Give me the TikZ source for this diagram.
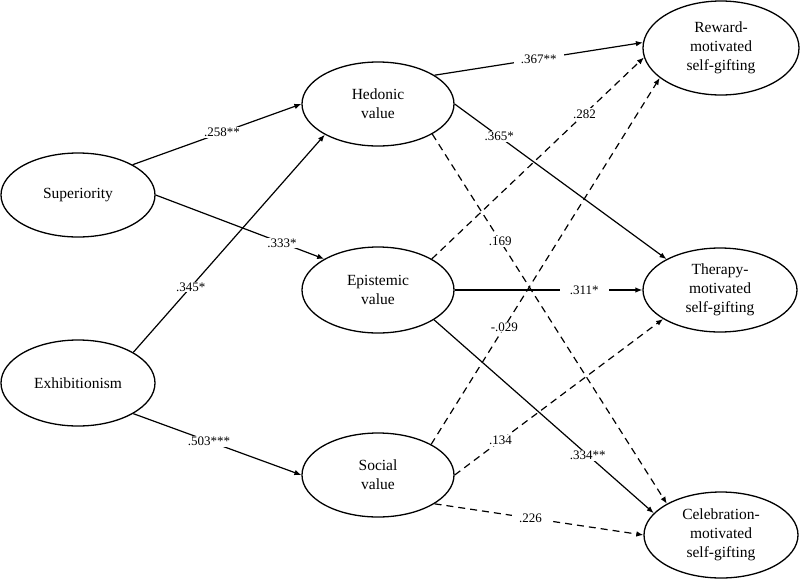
\documentclass[tikz,border=0pt]{standalone}
\usepackage{fontspec}
\setmainfont{Liberation Serif}
\usetikzlibrary{shapes.geometric,arrows.meta}
\begin{document}
\begin{tikzpicture}[x=1pt,y=-1pt,
  var/.style={draw,ellipse,line width=1.3pt,inner sep=0pt,align=center,
    font=\fontsize{15.5}{19}\selectfont},
  path/.style={line width=1.2pt,-{Latex[length=7pt,width=5.5pt]}},
  ns/.style={path,dash pattern=on 7pt off 5pt},
  lbl/.style={fill=white,inner xsep=7pt,inner ysep=1pt,font=\fontsize{13}{15}\selectfont}]
\useasboundingbox (0,0) rectangle (800,579);
\node[var,minimum width=154pt,minimum height=84pt] (sup) at (78,195) {Superiority};
\node[var,minimum width=154pt,minimum height=86pt] (exh) at (78,383) {Exhibitionism};
\node[var,minimum width=152pt,minimum height=84pt] (hed) at (378,104) {Hedonic\\value};
\node[var,minimum width=152pt,minimum height=86pt] (epi) at (378,290) {Epistemic\\value};
\node[var,minimum width=152pt,minimum height=84pt] (soc) at (378,475) {Social\\value};
\node[var,minimum width=156pt,minimum height=94pt] (rew) at (721,48) {Reward-\\motivated\\self-gifting};
\node[var,minimum width=154pt,minimum height=84pt] (the) at (720,290) {Therapy-\\motivated\\self-gifting};
\node[var,minimum width=154pt,minimum height=86pt] (cel) at (721,535) {Celebration-\\motivated\\self-gifting};

\draw[path] (sup.29) -- node[lbl,pos=0.53] {.258**} (hed.west);
\draw[path] (sup.east) -- node[lbl,pos=0.75] {.333*} (epi.150.6);
\draw[path] (exh.29) -- node[lbl,pos=0.3] {.345*} (hed.210.2);
\draw[path] (exh.-29) -- node[lbl,pos=0.45] {.503***} (soc.west);

\draw[path] (hed.27.8) -- node[lbl,pos=0.5] {.367**} (rew.176.3);
\draw[path] (hed.east) -- node[lbl,pos=0.21] {.365*} (the.150.1);
\draw[ns] (hed.-29.4) -- node[lbl,pos=0.29] {.169} (cel.150.3);

\draw[ns] (epi.30.2) -- node[lbl,pos=0.72] {.282} (rew.187.5);
\draw[path] (epi.east) -- node[lbl,pos=0.69,inner xsep=10pt] {.311*} (the.west);
\draw[path] (epi.-28.6) -- node[lbl,pos=0.7] {.334**} (cel.162);

\draw[ns] (soc.30.2) -- node[lbl,pos=0.32] {-.029} (rew.206.6);
\draw[ns] (soc.east) -- node[lbl,pos=0.22] {.134} (the.207.8);
\draw[ns] (soc.-27) -- node[lbl,pos=0.46] {.226} (cel.west);
\end{tikzpicture}
\end{document}
